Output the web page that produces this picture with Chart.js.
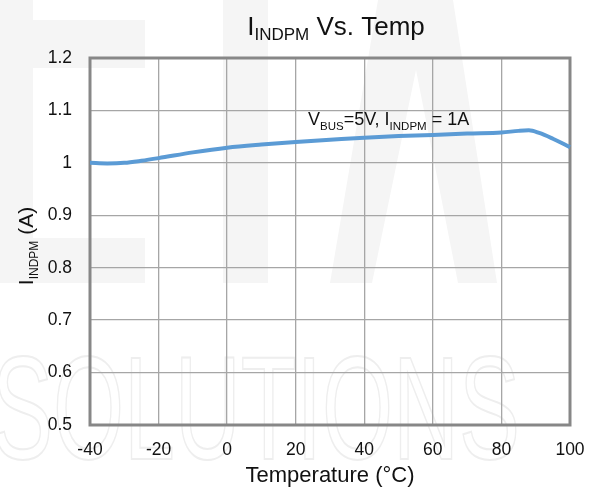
<!DOCTYPE html>
<html>
<head>
<meta charset="utf-8">
<script src="https://cdn.jsdelivr.net/npm/chart.js@4"></script>
<style>
html,body{margin:0;padding:0;background:#fff;}
#wrap{width:591px;height:493px;position:relative;}
</style>
</head>
<body>
<div id="wrap"><canvas id="c" width="591" height="493"></canvas></div>
<script>
// ---- data ----
const temperatures = [-40, -35, -30, -25, -20, -10, 0, 10, 20, 30, 40, 50, 60, 70, 80, 85, 88, 91, 95, 100];
const indpmCurrent = [1.000, 0.999, 1.000, 1.004, 1.009, 1.020, 1.029, 1.035, 1.040, 1.044, 1.048, 1.051, 1.053, 1.056, 1.058, 1.061, 1.062, 1.057, 1.046, 1.030];
const xTicks = [-40, -20, 0, 20, 40, 60, 80, 100];
const yTicks = [0.5, 0.6, 0.7, 0.8, 0.9, 1.0, 1.1, 1.2];
const annotationPos = [23.6, 1.073]; // temperature, current

const FONT = '"Liberation Sans", Arial, sans-serif';

function drawSubText(ctx, parts, x, y) {
  let cx = x;
  for (const [t, s, dy] of parts) {
    ctx.font = s + 'px ' + FONT;
    ctx.fillText(t, cx, y + dy);
    cx += ctx.measureText(t).width;
  }
  return cx - x;
}
function measureParts(ctx, parts) {
  let w = 0;
  for (const [t, s] of parts) { ctx.font = s + 'px ' + FONT; w += ctx.measureText(t).width; }
  return w;
}

const watermark = {
  id: 'watermark',
  beforeDraw(chart) {
    const ctx = chart.ctx;
    ctx.save();
    ctx.fillStyle = '#f5f5f5';
    ctx.fillRect(0, 0, 33, 283);
    ctx.fillRect(33, 20, 112, 48);
    ctx.fillRect(33, 238, 112, 45);
    ctx.fillRect(223, 0, 45, 283);
    ctx.beginPath();
    ctx.moveTo(378, 0); ctx.lineTo(453, 0); ctx.lineTo(497, 283); ctx.lineTo(458, 283);
    ctx.lineTo(416, 70); ctx.lineTo(372, 283); ctx.lineTo(330, 283); ctx.closePath();
    ctx.fill();
    ctx.font = '300 146px ' + FONT;
    ctx.strokeStyle = '#eeeeee';
    ctx.lineWidth = 2;
    const w = ctx.measureText('SOLUTIONS').width;
    ctx.translate(-8, 459);
    ctx.scale(528 / w, 1);
    ctx.strokeText('SOLUTIONS', 0, 0);
    ctx.restore();
  }
};

const decorations = {
  id: 'decorations',
  beforeDatasetsDraw(chart) {
    const {ctx, chartArea: a} = chart;
    ctx.save();
    ctx.strokeStyle = '#878787';
    ctx.lineWidth = 3;
    ctx.strokeRect(a.left, a.top, a.right - a.left, a.bottom - a.top);
    ctx.restore();
  },
  afterDraw(chart) {
    const {ctx, chartArea: a, scales} = chart;
    ctx.save();
    ctx.fillStyle = '#111';
    ctx.textBaseline = 'alphabetic';
    ctx.textAlign = 'left';
    const tParts = [['I', 26, 0], ['INDPM', 17, 5], [' Vs. Temp', 26, 0]];
    const tw = measureParts(ctx, tParts);
    drawSubText(ctx, tParts, 336 - tw / 2, 35);
    ctx.font = '22px ' + FONT;
    ctx.textAlign = 'center';
    ctx.fillText('Temperature (°C)', (a.left + a.right) / 2, 482);
    ctx.textAlign = 'left';
    const yParts = [['I', 21, 0], ['INDPM', 12, 5], [' (A)', 21, 0]];
    const yw = measureParts(ctx, yParts);
    ctx.save();
    ctx.translate(33, 246 + yw / 2);
    ctx.rotate(-Math.PI / 2);
    drawSubText(ctx, yParts, 0, 0);
    ctx.restore();
    const ax = scales.x.getPixelForValue(annotationPos[0]);
    const ay = scales.y.getPixelForValue(annotationPos[1]);
    const aParts = [['V', 18, 0], ['BUS', 11.5, 5], ['=5V, I', 18, 0], ['INDPM', 11.5, 5], [' = 1A', 18, 0]];
    drawSubText(ctx, aParts, ax, ay);
    ctx.restore();
  }
};

new Chart(document.getElementById('c'), {
  type: 'line',
  data: {
    datasets: [{
      data: temperatures.map((t, i) => ({x: t, y: indpmCurrent[i]})),
      borderColor: '#5b9bd5',
      borderWidth: 4,
      pointRadius: 0,
      cubicInterpolationMode: 'monotone',
      fill: false,
      clip: 4
    }]
  },
  options: {
    responsive: false,
    animation: false,
    devicePixelRatio: 1,
    layout: {padding: {top: 58, right: 21, left: 0, bottom: 0}},
    plugins: {legend: {display: false}, tooltip: {enabled: false}, title: {display: false}},
    scales: {
      x: {
        type: 'linear', min: xTicks[0], max: xTicks[xTicks.length - 1],
        afterBuildTicks(s) { s.ticks = xTicks.map(v => ({value: v})); },
        afterFit(s) { s.height = 68; s.paddingLeft = 0; s.paddingRight = 0; },
        grid: {color: '#a6a6a6', lineWidth: 1.3, drawTicks: false},
        border: {display: false},
        ticks: {padding: 15, color: '#111', font: {family: FONT, size: 17.5}, maxRotation: 0, callback: v => String(v)}
      },
      y: {
        type: 'linear', min: yTicks[0], max: yTicks[yTicks.length - 1],
        afterBuildTicks(s) { s.ticks = yTicks.map(v => ({value: v})); },
        afterFit(s) { s.width = 90; s.paddingTop = 0; s.paddingBottom = 0; },
        grid: {color: '#a6a6a6', lineWidth: 1.3, drawTicks: false},
        border: {display: false},
        ticks: {padding: 18, color: '#111', font: {family: FONT, size: 17.5}, callback: v => String(Number(v.toFixed(1)))}
      }
    }
  },
  plugins: [watermark, decorations]
});
</script>
</body>
</html>
